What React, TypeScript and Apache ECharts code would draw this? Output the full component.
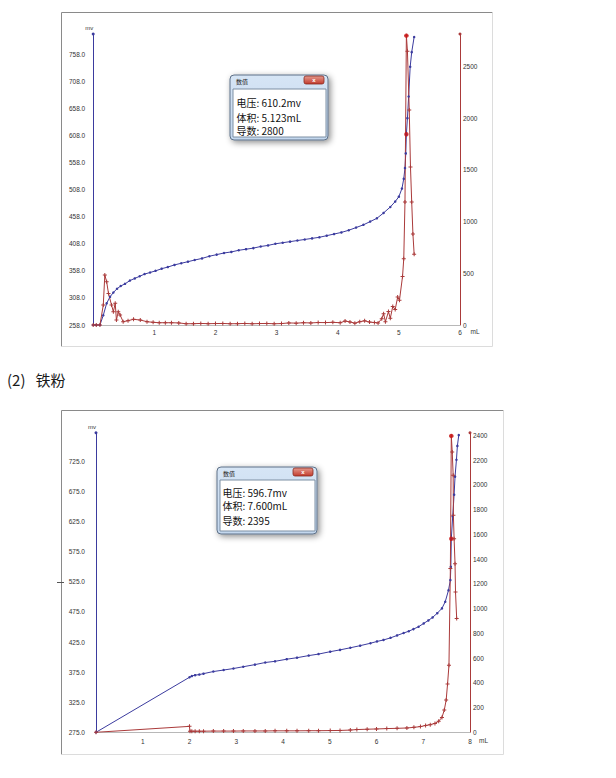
import React, { useEffect, useRef } from 'react';
import * as echarts from 'echarts';

// ---------- Chart 1 data ----------
const vol1 = [0, 0.05, 0.11, 0.165, 0.22, 0.275, 0.33, 0.39, 0.45, 0.52, 0.6, 0.68, 0.76, 0.84, 0.93, 1.02, 1.12, 1.22, 1.33, 1.44, 1.55, 1.66, 1.78, 1.9, 2.02, 2.14, 2.26, 2.38, 2.5, 2.62, 2.74, 2.86, 2.98, 3.1, 3.22, 3.34, 3.46, 3.58, 3.7, 3.82, 3.94, 4.06, 4.18, 4.3, 4.42, 4.53, 4.64, 4.75, 4.86, 4.94, 5.0, 5.05, 5.08, 5.1, 5.113, 5.123, 5.14, 5.16, 5.185, 5.21, 5.25];
const mv1 = [258, 258, 258, 276, 298, 310, 318, 325, 330, 334, 340, 344, 348, 352, 355, 358, 362, 365, 369, 372, 375, 378, 381, 385, 388, 391, 393, 396, 398, 400, 403, 405, 408, 410, 412, 414, 416, 418, 420, 423, 426, 429, 433, 438, 443, 449, 455, 465, 476, 486, 495, 510, 528, 548, 575, 610.2, 640, 680, 735, 762, 790];
const dvol1 = [0, 0.05, 0.11, 0.165, 0.19, 0.22, 0.25, 0.3, 0.33, 0.36, 0.38, 0.41, 0.44, 0.49, 0.57, 0.66, 0.77, 0.88, 0.98, 1.08, 1.18, 1.28, 1.4, 1.52, 1.64, 1.76, 1.88, 2.0, 2.12, 2.24, 2.36, 2.48, 2.6, 2.72, 2.84, 2.96, 3.08, 3.2, 3.32, 3.44, 3.56, 3.68, 3.8, 3.92, 4.04, 4.12, 4.2, 4.28, 4.36, 4.44, 4.52, 4.6, 4.66, 4.72, 4.75, 4.78, 4.83, 4.86, 4.9, 4.94, 4.98, 5.01, 5.06, 5.08, 5.1, 5.123, 5.14, 5.17, 5.19, 5.21, 5.23, 5.25];
const deriv1 = [0, 0, 0, 193, 483, 419, 306, 193, 129, 210, 48, 129, 97, 32, 42, 55, 48, 32, 26, 22, 22, 22, 20, 12, 13, 15, 13, 14, 15, 12, 13, 15, 12, 14, 15, 12, 14, 20, 18, 22, 20, 24, 23, 26, 22, 38, 30, 18, 32, 40, 28, 24, 20, 60, 110, 32, 130, 65, 180, 150, 270, 240, 470, 640, 1190, 2800, 2650, 2080, 1530, 1190, 880, 685];
const sel1 = { vol: 5.123, mv: 610.2, deriv: 2800 };

// ---------- Chart 2 data ----------
const vol2 = [0, 2.0, 2.05, 2.12, 2.21, 2.3, 2.51, 2.73, 2.94, 3.15, 3.4, 3.62, 3.83, 4.08, 4.3, 4.55, 4.76, 5.01, 5.22, 5.44, 5.65, 5.87, 6.01, 6.15, 6.3, 6.44, 6.58, 6.69, 6.79, 6.9, 7.01, 7.11, 7.2, 7.3, 7.4, 7.47, 7.54, 7.58, 7.59, 7.6, 7.63, 7.66, 7.68, 7.71, 7.73, 7.76];
const mv2 = [275, 366.5, 368.5, 370, 371, 372.5, 376, 378.5, 381, 384, 387.5, 391, 393, 396.5, 399, 402.5, 405, 409, 412, 415.5, 419, 423, 426, 428.5, 432, 436, 440, 443, 446.5, 450.5, 456, 461, 466, 473, 481, 492, 511, 528, 550, 596.7, 634, 670, 700, 728, 751, 769];
const dvol2 = [0, 2.0, 2.01, 2.05, 2.12, 2.21, 2.3, 2.51, 2.73, 2.94, 3.15, 3.4, 3.62, 3.83, 4.08, 4.3, 4.55, 4.76, 5.01, 5.22, 5.44, 5.58, 5.8, 6.0, 6.22, 6.44, 6.65, 6.8, 6.94, 7.05, 7.15, 7.25, 7.33, 7.4, 7.45, 7.49, 7.52, 7.55, 7.58, 7.6, 7.62, 7.64, 7.645, 7.66, 7.68, 7.69, 7.715];
const deriv2 = [0, 48, 8, 9, 9, 9, 9, 10, 10, 10, 11, 11, 11, 12, 12, 12, 13, 13, 14, 15, 18, 22, 25, 27, 30, 32, 35, 40, 46, 55, 62, 72, 90, 120, 180, 260, 390, 541, 1323, 2395, 2265, 2077, 1754, 1565, 1363, 1134, 919];
const sel2 = { vol: 7.6, mv: 596.7, deriv: 2395 };

// ---------- texts ----------
const sectionTitle = '(2)   铁粉';
const tipTitle = '数值';
const tipLines1 = ['电压: 610.2mv', '体积: 5.123mL', '导数: 2800'];
const tipLines2 = ['电压: 596.7mv', '体积: 7.600mL', '导数: 2395'];
const yName = 'mv';
const xName = 'mL';

const BLUE = '#3b3b9e';
const RED = '#aa3a3a';
const SEL = '#cc1414';
const PLUS = 'path://M3,0H5V3H8V5H5V8H3V5H0V3H3Z';
const TICK_FONT = 'Liberation Sans';
const CJK = 'Noto Sans CJK SC';

const zip = (a: number[], b: number[]) => a.map((v, i) => [v, b[i]]);

const onStep = (base: number, step: number, dec: number) => (v: number) => {
  const k = (v - base) / step;
  return Math.abs(k - Math.round(k)) < 1e-6 ? v.toFixed(dec) : '';
};

function xAxisDef(grid: number, max: number, margin: number) {
  return {
    type: 'value', gridIndex: grid, min: 0, max, interval: 1,
    name: xName, nameLocation: 'end', nameGap: 9,
    nameTextStyle: { fontSize: 6.5, fontFamily: TICK_FONT, color: '#333', verticalAlign: 'top', padding: [margin - 1, 0, 0, 0] },
    axisLine: { lineStyle: { color: '#b8b8b8', width: 1 } },
    axisTick: { show: false }, splitLine: { show: false },
    axisLabel: { showMinLabel: false, fontSize: 6.5, fontFamily: TICK_FONT, color: '#333', margin },
  };
}

function yLeftDef(grid: number, min: number, max: number, margin: number) {
  return {
    type: 'value', gridIndex: grid, position: 'left', min, max, interval: 50,
    name: yName, nameLocation: 'end', nameGap: 3,
    nameTextStyle: { fontSize: 6, fontFamily: TICK_FONT, color: '#333', align: 'right' },
    axisLine: { show: true, symbol: ['none', 'circle'], symbolSize: [3, 3], lineStyle: { color: BLUE, width: 1 } },
    axisTick: { show: false }, splitLine: { show: false },
    axisLabel: { fontSize: 6.5, fontFamily: TICK_FONT, color: '#333', margin, formatter: onStep(min, 50, 1) },
  };
}

function yRightDef(grid: number, max: number, step: number) {
  return {
    type: 'value', gridIndex: grid, position: 'right', min: 0, max, interval: step,
    axisLine: { show: true, symbol: ['none', 'circle'], symbolSize: [3, 3], lineStyle: { color: RED, width: 1 } },
    axisTick: { show: false }, splitLine: { show: false },
    axisLabel: { fontSize: 6.5, fontFamily: TICK_FONT, color: '#333', margin: 3, formatter: onStep(0, step, 0) },
  };
}

function lineSeries(xi: number, yi: number, data: number[][], color: string, symbol: string, size: number) {
  return {
    type: 'line', xAxisIndex: xi, yAxisIndex: yi, data,
    symbol, symbolSize: size, showSymbol: true,
    lineStyle: { color, width: 1 }, itemStyle: { color },
    emphasis: { disabled: true }, silent: true, z: 2,
  };
}

function selSeries(xi: number, yi: number, pt: number[]) {
  return {
    type: 'scatter', xAxisIndex: xi, yAxisIndex: yi, data: [pt],
    symbol: 'circle', symbolSize: 4.5, itemStyle: { color: SEL },
    emphasis: { disabled: true }, silent: true, z: 5,
  };
}

function frame(x1: number, y1: number, x2: number, y2: number) {
  const dark = '#8a8a8a';
  const light = '#dcdcdc';
  return [
    { type: 'line', shape: { x1, y1, x2, y2: y1 }, style: { stroke: dark, lineWidth: 1 } },
    { type: 'line', shape: { x1, y1, x2: x1, y2 }, style: { stroke: dark, lineWidth: 1 } },
    { type: 'line', shape: { x1: x2, y1, x2, y2 }, style: { stroke: light, lineWidth: 1 } },
    { type: 'line', shape: { x1, y1: y2, x2, y2 }, style: { stroke: light, lineWidth: 1 } },
  ];
}

function tipBox(x: number, y: number, w: number, h: number, innerTop: number, lines: string[], lineYs: number[], tx: number) {
  return {
    type: 'group',
    children: [
      {
        type: 'rect', shape: { x, y, width: w, height: h, r: 4 },
        style: {
          fill: new echarts.graphic.LinearGradient(0, 0, 0, 1, [
            { offset: 0, color: '#d6e5f5' }, { offset: 1, color: '#c3d7ee' },
          ]),
          stroke: '#5f7188', lineWidth: 1,
          shadowBlur: 6, shadowColor: 'rgba(0,0,0,0.45)', shadowOffsetX: 2, shadowOffsetY: 2,
        },
      },
      { type: 'text', style: { text: tipTitle, x: x + 6, y: y + 6.5, fill: '#222', fontSize: 6, fontFamily: CJK, verticalAlign: 'middle' } },
      {
        type: 'rect', shape: { x: x + w - 24, y: y + 1, width: 20, height: 8, r: 2 },
        style: {
          fill: new echarts.graphic.LinearGradient(0, 0, 0, 1, [
            { offset: 0, color: '#e59a8e' }, { offset: 1, color: '#c23b2c' },
          ]),
          stroke: '#8a2a20', lineWidth: 0.8,
        },
      },
      { type: 'text', style: { text: 'x', x: x + w - 14, y: y + 4.8, fill: '#fff', fontSize: 6, fontWeight: 'bold', fontFamily: TICK_FONT, align: 'center', verticalAlign: 'middle' } },
      {
        type: 'rect', shape: { x: x + 3, y: innerTop, width: w - 5, height: y + h - 3 - innerTop },
        style: { fill: '#ffffff', stroke: '#7d8fa3', lineWidth: 1 },
      },
      ...lines.map((t, i) => ({
        type: 'text',
        style: { text: t, x: tx, y: lineYs[i], fill: '#111', fontSize: 10, fontFamily: CJK, verticalAlign: 'middle' },
      })),
    ],
  };
}

const option = {
  animation: false,
  backgroundColor: '#ffffff',
  grid: [
    { left: 93.2, top: 34, width: 366.8, height: 291 },
    { left: 96, top: 432.7, width: 374, height: 299.6 },
  ],
  xAxis: [xAxisDef(0, 6, 4), xAxisDef(1, 8, 6)],
  yAxis: [
    yLeftDef(0, 258, 795.5, 8),
    yRightDef(0, 2816, 500),
    yLeftDef(1, 275, 773, 11),
    yRightDef(1, 2421, 200),
  ],
  series: [
    lineSeries(0, 0, zip(vol1, mv1), BLUE, 'circle', 2.5),
    lineSeries(0, 1, zip(dvol1, deriv1), RED, PLUS, 4),
    selSeries(0, 0, [sel1.vol, sel1.mv]),
    selSeries(0, 1, [sel1.vol, sel1.deriv]),
    lineSeries(1, 2, zip(vol2, mv2), BLUE, 'circle', 2.5),
    lineSeries(1, 3, zip(dvol2, deriv2), RED, PLUS, 4),
    selSeries(1, 2, [sel2.vol, sel2.mv]),
    selSeries(1, 3, [sel2.vol, sel2.deriv]),
  ],
  graphic: [
    ...frame(61.5, 12.5, 492.5, 346.5),
    ...frame(61.5, 410.5, 503.5, 754.5),
    { type: 'line', shape: { x1: 57, y1: 582.5, x2: 64, y2: 582.5 }, style: { stroke: '#555', lineWidth: 1 } },
    { type: 'text', style: { text: sectionTitle, x: 7, y: 379, fill: '#1a1a1a', fontSize: 15, fontFamily: CJK, verticalAlign: 'middle' } },
    tipBox(230, 75, 98, 65, 89, tipLines1, [102, 117, 130.5], 236.5),
    tipBox(217, 467, 100, 67, 480, tipLines2, [492, 505.5, 520], 222.5),
  ],
};

export default function App() {
  const ref = useRef<HTMLDivElement>(null);
  useEffect(() => {
    const chart = echarts.init(ref.current as HTMLDivElement, undefined, { renderer: 'svg', width: 616, height: 778 });
    chart.setOption(option as any);
    return () => chart.dispose();
  }, []);
  return (
    <div
      ref={ref}
      style={{ position: 'absolute', left: 0, top: 0, width: 616, height: 778, background: '#fff' }}
    />
  );
}
